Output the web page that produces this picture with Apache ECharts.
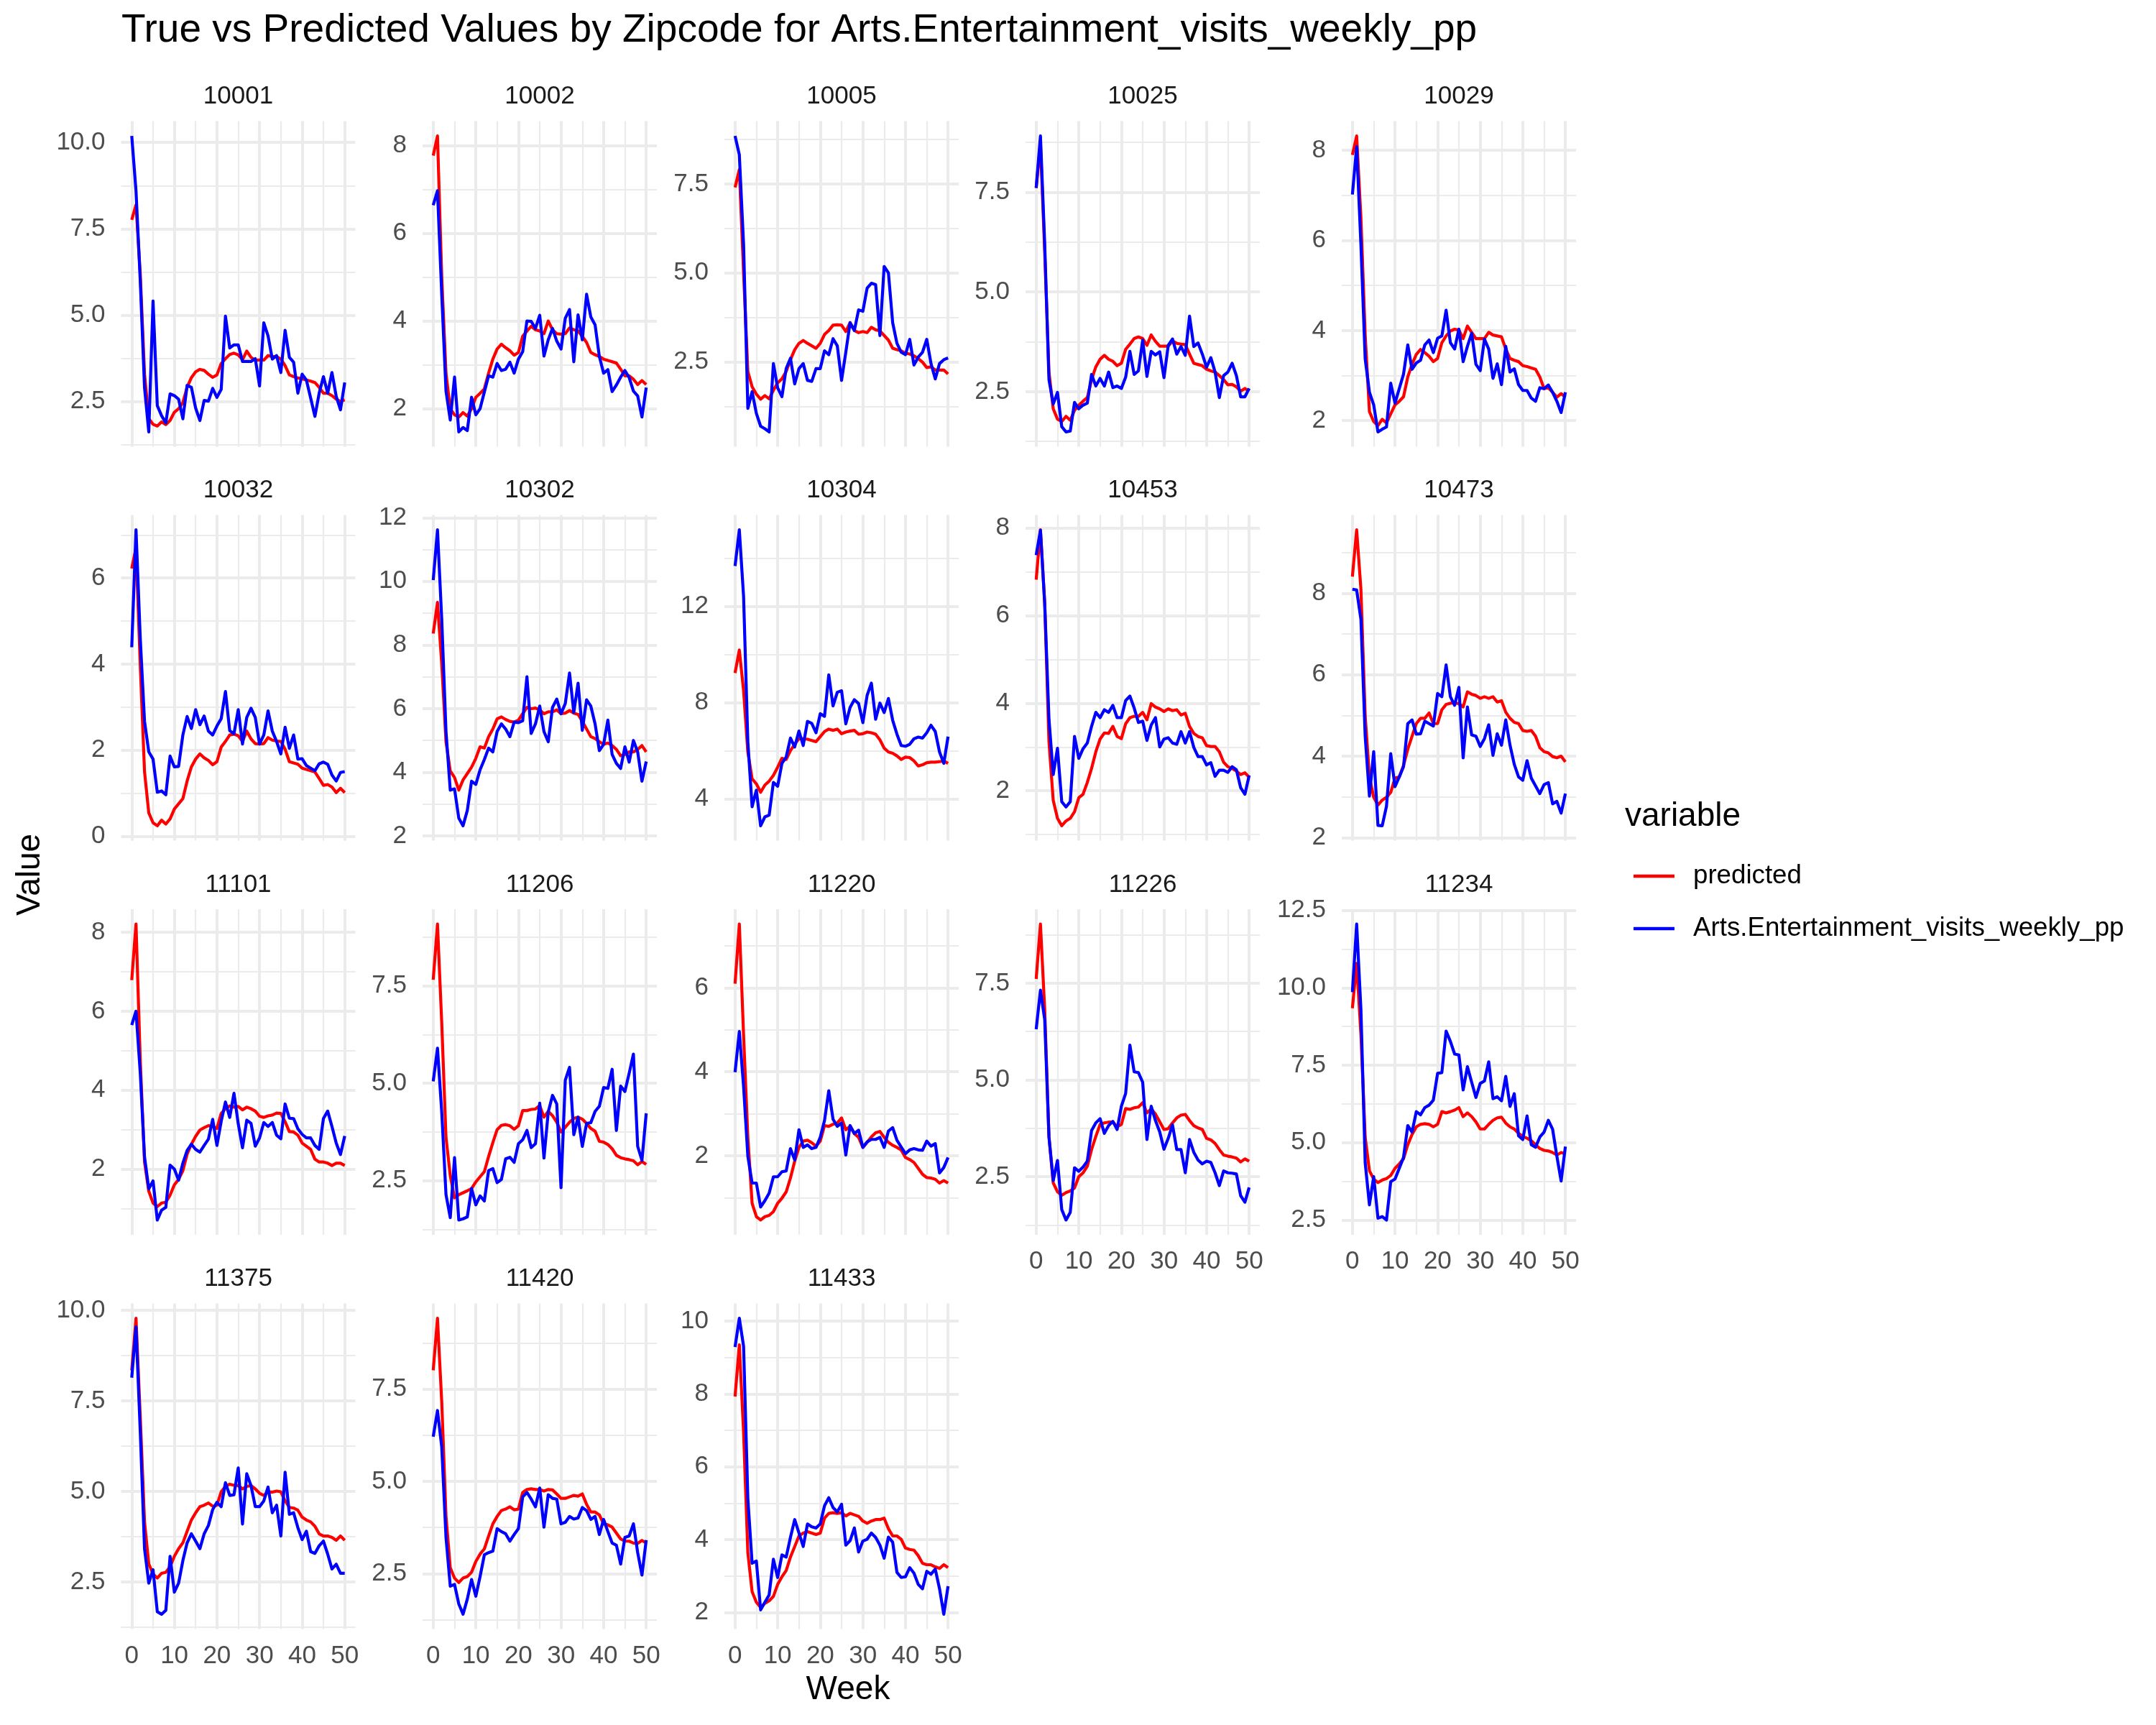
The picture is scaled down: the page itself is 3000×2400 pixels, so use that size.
<!DOCTYPE html>
<html><head><meta charset="utf-8">
<script src="https://cdn.jsdelivr.net/npm/echarts@6/dist/echarts.min.js"></script>
<style>html,body{margin:0;padding:0;background:#fff}#chart{width:3000px;height:2400px}</style>
</head><body><div id="chart"></div>
<script>
// ---------- DATA ----------
const weeks = [0,1,2,3,4,5,6,7,8,9,10,11,12,13,14,15,16,17,18,19,20,21,22,23,24,25,26,27,28,29,30,31,32,33,34,35,36,37,38,39,40,41,42,43,44,45,46,47,48,49,50];
const xTicks = [0,10,20,30,40,50];
const zipcodes = ['10001','10002','10005','10025','10029','10032','10302','10304','10453','10473','11101','11206','11220','11226','11234','11375','11420','11433'];

const true_10001 = [10.19,8.6,6.0,2.9,1.62,5.41,2.38,2.09,1.88,2.72,2.67,2.57,2.0,2.97,2.91,2.31,1.95,2.53,2.51,2.88,2.62,2.85,4.97,4.05,4.14,4.14,3.66,3.66,3.66,3.74,2.95,4.78,4.4,3.73,3.83,3.34,4.56,3.78,3.64,2.74,3.29,3.12,2.6,2.07,2.74,3.22,2.74,3.34,2.65,2.26,3.05];
const pred_10001 = [7.76,8.19,6.2,3.3,2.0,1.84,1.79,1.91,1.83,1.95,2.19,2.29,2.47,2.91,3.19,3.36,3.43,3.4,3.29,3.2,3.27,3.6,3.74,3.86,3.9,3.85,3.71,3.96,3.78,3.69,3.7,3.7,3.83,3.8,3.8,3.73,3.54,3.27,3.22,3.18,3.16,3.12,3.09,3.05,2.91,2.74,2.74,2.67,2.57,2.5,2.55];
const true_10002 = [6.64,6.97,4.6,2.4,1.74,2.72,1.47,1.57,1.5,2.26,1.86,2.0,2.38,2.75,2.72,3.03,2.87,2.9,3.06,2.81,3.13,3.3,4.0,3.99,3.83,4.13,3.2,3.57,3.83,3.54,3.36,4.06,4.26,3.07,4.14,3.57,4.61,4.09,3.91,3.19,2.81,2.89,2.39,2.54,2.72,2.87,2.71,2.4,2.29,1.81,2.48];
const pred_10002 = [7.77,8.22,5.0,2.8,2.0,1.86,1.81,1.91,1.83,2.0,2.26,2.35,2.45,2.81,3.13,3.36,3.47,3.39,3.32,3.22,3.28,3.65,3.77,3.88,3.8,3.77,3.71,4.0,3.8,3.71,3.7,3.71,3.84,3.8,3.77,3.65,3.51,3.28,3.23,3.19,3.13,3.1,3.07,3.04,2.9,2.75,2.75,2.67,2.55,2.64,2.55];
const true_10005 = [8.85,8.32,5.8,1.19,1.66,1.05,0.69,0.62,0.53,2.45,1.77,1.52,2.31,2.6,1.88,2.31,2.45,1.98,1.95,2.31,2.31,2.81,2.7,3.15,2.95,1.98,2.77,3.6,3.38,3.96,3.92,4.57,4.71,4.67,3.24,5.18,5.0,3.6,3.02,2.77,2.7,3.13,2.41,2.63,2.77,3.13,2.45,2.02,2.45,2.56,2.61];
const pred_10005 = [7.4,7.9,5.0,2.23,1.8,1.59,1.45,1.55,1.46,1.7,1.91,2.02,2.23,2.56,2.84,3.02,3.1,3.02,2.95,2.88,3.02,3.27,3.38,3.53,3.54,3.53,3.35,3.6,3.38,3.32,3.35,3.32,3.47,3.4,3.37,3.24,3.11,2.88,2.84,2.81,2.74,2.72,2.67,2.59,2.49,2.34,2.36,2.27,2.27,2.27,2.16];
const true_10025 = [7.61,8.91,6.2,2.8,2.19,2.48,1.62,1.49,1.51,2.23,2.07,2.16,2.21,2.93,2.64,2.83,2.64,2.99,2.6,2.64,2.58,2.86,3.51,2.93,3.02,3.79,2.88,3.51,3.42,3.5,2.85,3.66,3.82,3.44,3.63,3.41,4.39,3.63,3.72,3.44,3.11,3.35,2.99,2.35,2.9,2.99,3.21,2.9,2.37,2.37,2.58];
const pred_10025 = [7.6,8.7,6.0,2.99,2.07,1.81,1.75,1.88,1.78,2.03,2.16,2.26,2.35,2.8,3.12,3.31,3.41,3.31,3.26,3.15,3.21,3.56,3.69,3.83,3.87,3.83,3.66,3.92,3.76,3.64,3.64,3.64,3.77,3.71,3.69,3.68,3.44,3.21,3.18,3.15,3.06,3.02,2.99,2.9,2.8,2.67,2.68,2.62,2.51,2.58,2.51];
const true_10029 = [7.02,8.08,5.9,3.37,2.63,2.35,1.75,1.81,1.86,2.83,2.39,2.71,3.03,3.68,3.14,3.28,3.34,3.68,3.79,3.51,3.83,3.88,4.45,3.73,3.59,4.03,3.31,3.65,3.94,3.25,3.11,3.81,3.59,2.94,3.26,2.8,3.65,3.08,3.15,2.8,2.67,2.67,2.5,2.43,2.73,2.71,2.79,2.63,2.43,2.18,2.63];
const pred_10029 = [7.9,8.32,6.5,3.9,2.2,1.98,1.89,2.03,1.95,2.15,2.35,2.43,2.53,2.97,3.25,3.47,3.58,3.51,3.43,3.31,3.38,3.73,3.88,3.99,4.03,4.01,3.82,4.1,3.96,3.82,3.82,3.82,3.96,3.9,3.88,3.86,3.59,3.38,3.34,3.31,3.22,3.2,3.17,3.14,2.97,2.71,2.73,2.63,2.52,2.6,2.52];
const true_10032 = [4.39,7.12,4.6,2.67,1.96,1.79,1.02,1.05,0.96,1.86,1.61,1.62,2.35,2.78,2.5,2.94,2.59,2.79,2.44,2.35,2.56,2.73,3.36,2.45,2.38,2.94,2.14,2.76,2.97,2.76,2.14,2.35,2.91,2.44,2.2,1.91,2.53,2.04,2.35,1.79,1.8,1.64,1.58,1.52,1.68,1.72,1.67,1.42,1.28,1.48,1.5];
const pred_10032 = [6.22,6.7,3.97,1.5,0.54,0.31,0.24,0.37,0.28,0.4,0.63,0.75,0.87,1.28,1.61,1.79,1.91,1.82,1.76,1.66,1.73,2.07,2.2,2.35,2.37,2.33,2.2,2.44,2.26,2.15,2.14,2.15,2.29,2.23,2.21,2.2,2.02,1.73,1.7,1.67,1.58,1.55,1.52,1.49,1.34,1.18,1.2,1.14,1.01,1.11,1.01];
const true_10302 = [10.04,11.62,8.8,5.28,3.44,3.48,2.56,2.32,2.8,3.72,3.62,4.08,4.4,4.76,4.64,5.28,5.52,5.36,5.12,5.58,5.56,5.62,7.0,5.22,5.52,6.08,5.28,4.96,6.04,6.3,5.84,6.16,7.12,5.88,6.8,5.32,6.28,6.08,5.52,4.68,4.88,5.64,4.56,4.28,4.12,4.8,4.32,5.0,4.64,3.72,4.34];
const pred_10302 = [8.36,9.34,7.4,4.96,4.04,3.84,3.44,3.76,3.96,4.16,4.44,4.8,4.76,5.12,5.36,5.68,5.74,5.66,5.6,5.58,5.64,5.84,6.04,6.0,6.02,5.96,5.84,5.9,5.9,5.96,5.84,5.86,5.94,5.86,5.82,5.6,5.36,5.12,5.06,4.96,4.88,4.92,4.84,4.72,4.52,4.56,4.64,4.64,4.72,4.84,4.64];
const true_10304 = [13.67,15.17,12.4,6.38,3.68,4.37,2.89,3.26,3.33,4.69,4.53,5.48,5.74,6.53,6.16,6.82,6.22,7.22,7.14,6.75,7.54,7.43,9.15,7.86,8.43,8.49,7.12,7.8,8.12,7.96,7.17,8.3,8.81,7.31,7.98,7.59,8.17,7.27,6.69,6.22,6.19,6.27,6.5,6.57,6.53,6.75,7.06,6.8,5.95,5.48,6.59];
const pred_10304 = [9.23,10.18,8.5,5.95,4.84,4.63,4.28,4.58,4.74,4.98,5.32,5.69,5.64,6.01,6.27,6.5,6.5,6.48,6.43,6.38,6.59,6.8,6.9,6.85,6.9,6.71,6.78,6.82,6.85,6.69,6.71,6.78,6.75,6.69,6.46,6.11,5.95,5.9,5.79,5.64,5.74,5.72,5.58,5.37,5.42,5.51,5.53,5.53,5.55,5.58,5.48];
const true_10453 = [7.38,7.95,6.27,3.64,2.37,2.97,1.75,1.63,1.75,3.24,2.74,2.96,3.09,3.47,3.79,3.67,3.85,3.79,3.95,3.67,3.67,4.06,4.16,3.89,3.56,3.59,3.15,3.5,3.67,3.0,3.18,3.21,3.09,3.06,3.35,3.09,3.35,2.99,2.78,2.78,2.59,2.64,2.33,2.47,2.47,2.42,2.55,2.48,2.07,1.92,2.35];
const pred_10453 = [6.82,7.96,6.3,3.12,1.78,1.37,1.2,1.31,1.37,1.52,1.84,1.92,2.19,2.51,2.89,3.18,3.32,3.31,3.47,3.24,3.19,3.53,3.67,3.7,3.7,3.79,3.62,3.99,3.91,3.87,3.81,3.87,3.83,3.85,3.73,3.77,3.47,3.31,3.24,3.21,3.03,3.01,3.01,2.89,2.65,2.55,2.51,2.45,2.37,2.41,2.31];
const true_10473 = [8.1,8.08,7.36,4.49,3.02,4.11,2.3,2.29,2.77,4.06,3.25,3.49,3.74,4.8,4.89,4.54,4.55,4.86,4.8,4.74,5.54,5.46,6.24,5.46,5.25,5.69,3.96,5.21,4.52,4.49,4.24,4.43,4.77,4.02,4.55,4.27,4.89,4.27,3.8,3.49,3.41,3.89,3.46,3.27,3.08,3.3,3.35,2.83,2.89,2.6,3.08];
const pred_10473 = [8.41,9.56,8.1,4.99,3.49,2.99,2.8,2.92,2.99,3.11,3.46,3.49,3.77,4.17,4.49,4.8,4.93,4.93,5.06,4.8,4.8,5.14,5.27,5.3,5.31,5.29,5.21,5.58,5.52,5.49,5.42,5.46,5.42,5.46,5.33,5.36,5.08,4.93,4.83,4.8,4.63,4.61,4.63,4.49,4.21,4.11,4.08,3.99,3.96,4.0,3.86];
const true_11101 = [5.65,6.0,4.44,2.31,1.5,1.7,0.71,0.96,1.03,2.1,2.0,1.72,2.15,2.47,2.63,2.5,2.43,2.6,2.76,3.26,2.6,3.21,3.7,3.31,3.92,3.15,2.54,3.24,3.16,2.58,2.79,3.18,3.08,3.18,2.86,2.77,3.65,3.29,3.28,3.02,2.88,2.79,2.79,2.6,2.5,3.28,3.47,3.08,2.66,2.37,2.84];
const pred_11101 = [6.79,8.21,4.76,2.18,1.44,1.14,1.05,1.14,1.16,1.34,1.6,1.74,1.96,2.38,2.63,2.83,2.99,3.05,3.1,3.08,3.03,3.41,3.53,3.6,3.57,3.59,3.5,3.57,3.53,3.47,3.34,3.31,3.35,3.37,3.42,3.41,3.2,2.95,2.94,2.86,2.66,2.58,2.5,2.25,2.18,2.18,2.15,2.09,2.15,2.15,2.09];
const true_11206 = [5.05,5.9,4.26,2.14,1.55,3.09,1.49,1.52,1.57,2.3,1.88,2.11,1.98,2.76,2.81,2.45,2.53,3.06,3.1,2.97,3.45,3.55,3.79,3.35,3.45,4.49,3.08,4.26,4.69,4.47,2.32,5.08,5.41,3.68,4.13,3.38,3.97,3.99,4.28,4.41,4.89,4.87,5.36,3.79,4.93,4.79,5.26,5.75,3.38,3.02,4.23];
const pred_11206 = [7.66,9.09,6.55,3.61,2.63,2.06,2.14,2.19,2.24,2.3,2.47,2.6,2.73,3.12,3.48,3.81,3.92,3.94,3.91,3.82,3.91,4.3,4.3,4.33,4.34,4.43,4.13,4.28,4.17,4.0,3.75,3.87,4.0,4.1,4.13,4.08,3.97,3.84,3.77,3.51,3.49,3.43,3.32,3.15,3.09,3.06,3.04,3.01,2.91,2.99,2.92];
const true_11220 = [3.99,4.96,3.65,1.99,1.35,1.35,0.78,0.93,1.11,1.5,1.5,1.62,1.64,2.17,1.9,2.62,2.2,2.26,2.17,2.2,2.44,2.84,3.55,2.87,2.7,2.78,2.02,2.72,2.53,2.61,2.2,2.33,2.39,2.39,2.44,2.2,2.59,2.67,2.37,2.21,2.05,2.14,2.17,2.14,2.13,2.35,2.23,2.29,1.59,1.72,1.96];
const pred_11220 = [6.1,7.52,4.87,2.44,0.87,0.55,0.47,0.55,0.58,0.67,0.87,0.99,1.14,1.47,1.87,2.2,2.35,2.37,2.31,2.23,2.35,2.72,2.7,2.75,2.78,2.9,2.62,2.7,2.53,2.44,2.2,2.32,2.45,2.55,2.58,2.44,2.32,2.25,2.2,2.14,1.96,1.91,1.84,1.7,1.56,1.48,1.47,1.44,1.35,1.41,1.35];
const true_11226 = [6.31,7.32,6.56,3.53,2.4,2.92,1.65,1.38,1.58,2.73,2.64,2.75,2.9,3.69,3.89,4.0,3.62,3.82,3.93,3.72,4.32,4.65,5.9,5.21,5.19,4.94,3.46,4.32,3.95,3.66,3.21,3.49,3.84,3.2,3.2,2.6,3.46,3.13,2.93,2.83,2.9,2.87,2.6,2.27,2.65,2.6,2.59,2.57,2.01,1.84,2.22];
const pred_11226 = [7.61,9.03,6.82,3.53,2.34,2.11,2.02,2.09,2.13,2.21,2.5,2.6,2.77,3.2,3.54,3.85,3.89,3.91,3.91,3.79,3.85,4.26,4.24,4.28,4.3,4.41,4.15,4.25,4.12,3.92,3.72,3.74,3.89,4.02,4.09,4.11,3.95,3.82,3.76,3.72,3.49,3.45,3.36,3.2,3.06,3.03,3.01,2.98,2.88,2.96,2.9];
const true_11234 = [9.86,12.06,9.3,4.35,2.99,3.9,2.56,2.61,2.5,3.74,3.82,4.17,4.52,5.55,5.34,6.0,5.9,6.13,6.21,6.37,7.24,7.26,8.6,8.27,7.86,7.83,6.7,7.45,6.95,6.46,6.91,6.99,7.61,6.42,6.48,6.35,7.14,6.17,6.58,5.22,5.1,5.86,4.93,4.85,5.18,5.34,5.72,5.43,4.56,3.76,4.87];
const pred_11234 = [9.34,10.79,8.5,5.18,4.09,3.82,3.71,3.79,3.84,3.94,4.17,4.31,4.48,4.93,5.26,5.51,5.59,5.61,5.59,5.51,5.59,6.0,5.96,6.0,6.05,6.13,5.84,5.96,5.84,5.67,5.44,5.44,5.59,5.72,5.8,5.82,5.63,5.51,5.44,5.3,5.2,5.14,5.06,4.93,4.81,4.75,4.73,4.68,4.6,4.68,4.64];
const true_11375 = [8.14,9.54,6.65,3.42,2.47,2.84,1.68,1.61,1.72,3.21,2.22,2.47,3.09,3.58,3.83,3.63,3.42,3.83,4.06,4.5,4.7,4.58,5.24,4.89,4.91,5.65,4.1,5.49,5.16,4.58,4.58,4.74,5.12,4.41,4.62,3.77,5.53,4.37,4.41,4.0,3.67,3.9,3.34,3.29,3.5,3.63,3.27,2.86,2.99,2.74,2.74];
const pred_11375 = [8.34,9.78,7.06,4.16,3.0,2.72,2.61,2.74,2.77,2.92,3.21,3.42,3.58,3.9,4.21,4.41,4.58,4.62,4.68,4.59,4.62,4.99,5.14,5.2,5.17,5.16,5.07,5.14,5.16,5.07,4.95,4.89,4.99,4.98,5.01,4.99,4.74,4.56,4.54,4.48,4.29,4.21,4.16,4.04,3.83,3.77,3.77,3.73,3.65,3.77,3.65];
const true_11420 = [6.21,6.92,5.93,3.48,2.16,2.21,1.68,1.4,1.81,2.34,1.89,2.42,3.01,3.07,3.11,3.72,3.64,3.58,3.38,3.56,3.72,4.58,4.7,4.52,4.31,4.82,3.76,4.64,4.54,4.52,3.85,3.89,4.05,3.98,4.01,4.29,4.21,3.97,4.05,3.56,3.97,3.64,3.33,3.27,2.76,3.48,3.52,3.85,3.07,2.46,3.41];
const pred_11420 = [8.01,9.42,7.15,4.05,2.66,2.38,2.26,2.38,2.42,2.54,2.83,3.03,3.17,3.52,3.85,4.05,4.21,4.25,4.31,4.23,4.25,4.7,4.78,4.8,4.78,4.78,4.74,4.78,4.77,4.66,4.54,4.54,4.58,4.62,4.6,4.66,4.38,4.17,4.17,4.09,3.85,3.82,3.76,3.6,3.44,3.38,3.38,3.33,3.32,3.4,3.33];
const true_11433 = [9.29,10.08,9.31,5.13,3.35,3.41,2.07,2.28,2.48,3.46,2.96,3.58,3.52,4.06,4.55,4.18,3.81,4.43,4.35,4.32,4.43,4.93,5.15,4.88,4.76,4.97,3.85,3.97,4.32,3.66,3.96,4.01,4.18,4.06,3.85,3.49,4.07,3.93,3.1,2.96,2.98,3.23,3.08,2.77,2.65,3.13,3.05,3.19,2.65,1.95,2.72];
const pred_11433 = [7.93,9.35,6.95,3.64,2.57,2.28,2.14,2.25,2.32,2.44,2.77,2.98,3.15,3.52,3.81,4.1,4.18,4.22,4.18,4.14,4.18,4.59,4.72,4.74,4.72,4.74,4.65,4.72,4.68,4.64,4.51,4.45,4.51,4.55,4.55,4.59,4.3,4.1,4.1,4.01,3.77,3.73,3.71,3.56,3.35,3.31,3.31,3.25,3.21,3.31,3.23];

// y tick labels per panel
const yTicks_10001 = [2.5,5,7.5,10];
const yTicks_10002 = [2,4,6,8];
const yTicks_10005 = [2.5,5,7.5];
const yTicks_10025 = [2.5,5,7.5];
const yTicks_10029 = [2,4,6,8];
const yTicks_10032 = [0,2,4,6];
const yTicks_10302 = [2,4,6,8,10,12];
const yTicks_10304 = [4,8,12];
const yTicks_10453 = [2,4,6,8];
const yTicks_10473 = [2,4,6,8];
const yTicks_11101 = [2,4,6,8];
const yTicks_11206 = [2.5,5,7.5];
const yTicks_11220 = [2,4,6];
const yTicks_11226 = [2.5,5,7.5];
const yTicks_11234 = [2.5,5,7.5,10,12.5];
const yTicks_11375 = [2.5,5,7.5,10];
const yTicks_11420 = [2.5,5,7.5];
const yTicks_11433 = [2,4,6,8,10];

const predicted = [pred_10001,pred_10002,pred_10005,pred_10025,pred_10029,pred_10032,pred_10302,pred_10304,pred_10453,pred_10473,pred_11101,pred_11206,pred_11220,pred_11226,pred_11234,pred_11375,pred_11420,pred_11433];
const actual = [true_10001,true_10002,true_10005,true_10025,true_10029,true_10032,true_10302,true_10304,true_10453,true_10473,true_11101,true_11206,true_11220,true_11226,true_11234,true_11375,true_11420,true_11433];
const yTicks = [yTicks_10001,yTicks_10002,yTicks_10005,yTicks_10025,yTicks_10029,yTicks_10032,yTicks_10302,yTicks_10304,yTicks_10453,yTicks_10473,yTicks_11101,yTicks_11206,yTicks_11220,yTicks_11226,yTicks_11234,yTicks_11375,yTicks_11420,yTicks_11433];

// ---------- LAYOUT / STYLE ----------
const FONT = '"Liberation Sans", Arial, Helvetica, sans-serif';
const colLeft = [168.5, 588, 1008, 1427, 1867];
const rowTop = [168.5, 716.5, 1265, 1813.5];
const PW = 326, PH = 453;
const GRID_COLOR = '#EBEBEB';
const MAJOR_W = 4, MINOR_W = 2.2, LINE_W = 4.2;

const grids = [], xAxes = [], yAxes = [], series = [], graphics = [];

zipcodes.forEach((zip, i) => {
  const r = Math.floor(i / 5), c = i % 5;
  const left = colLeft[c], top = rowTop[r];
  grids.push({ left: left, top: top, width: PW, height: PH });

  const all = predicted[i].concat(actual[i]);
  const dmin = Math.min.apply(null, all), dmax = Math.max.apply(null, all);
  const lo = dmin - 0.05 * (dmax - dmin), hi = dmax + 0.05 * (dmax - dmin);
  const t = yTicks[i];
  const dec = t.some(v => Math.round(v) !== v);
  const step = t[1] - t[0];
  const ext = [t[0] - step].concat(t, [t[t.length - 1] + step]);
  const minors = [];
  for (let k = 0; k < ext.length - 1; k++) {
    const m = (ext[k] + ext[k + 1]) / 2;
    if (m >= lo && m <= hi) minors.push(m);
  }
  const showX = (i >= 13);

  xAxes.push({
    type: 'value', gridIndex: i, min: -2.5, max: 52.5,
    axisLine: { show: false }, axisTick: { show: false }, splitLine: { show: false },
    axisLabel: { show: showX, customValues: xTicks, margin: 20, fontSize: 35, color: '#4D4D4D', fontFamily: FONT }
  });
  yAxes.push({
    type: 'value', gridIndex: i, min: lo, max: hi,
    axisLine: { show: false }, axisTick: { show: false }, splitLine: { show: false },
    axisLabel: { customValues: t, margin: 22, fontSize: 35, color: '#4D4D4D', fontFamily: FONT,
      formatter: v => dec ? v.toFixed(1) : String(Math.round(v)) }
  });

  const mk = [];
  minors.forEach(v => mk.push({ yAxis: v, lineStyle: { width: MINOR_W, color: GRID_COLOR, type: 'solid' } }));
  [5, 15, 25, 35, 45].forEach(v => mk.push({ xAxis: v, lineStyle: { width: MINOR_W, color: GRID_COLOR, type: 'solid' } }));
  t.forEach(v => mk.push({ yAxis: v, lineStyle: { width: MAJOR_W, color: GRID_COLOR, type: 'solid' } }));
  xTicks.forEach(v => mk.push({ xAxis: v, lineStyle: { width: MAJOR_W, color: GRID_COLOR, type: 'solid' } }));

  series.push({
    type: 'line', name: 'grid' + i, xAxisIndex: i, yAxisIndex: i, data: [], silent: true, z: 0,
    markLine: { z: 0, silent: true, symbol: ['none', 'none'], label: { show: false }, animation: false,
      emphasis: { disabled: true }, data: mk }
  });
  series.push({
    type: 'line', name: 'predicted', xAxisIndex: i, yAxisIndex: i, z: 10,
    data: weeks.map((w, j) => [w, predicted[i][j]]),
    showSymbol: false, symbol: 'none', color: '#FF0000',
    lineStyle: { color: '#FF0000', width: LINE_W, cap: 'butt', join: 'round' },
    emphasis: { disabled: true }
  });
  series.push({
    type: 'line', name: 'Arts.Entertainment_visits_weekly_pp', xAxisIndex: i, yAxisIndex: i, z: 11,
    data: weeks.map((w, j) => [w, actual[i][j]]),
    showSymbol: false, symbol: 'none', color: '#0000FF',
    lineStyle: { color: '#0000FF', width: LINE_W, cap: 'butt', join: 'round' },
    emphasis: { disabled: true }
  });

  graphics.push({
    type: 'text', x: left + PW / 2, y: top - 34,
    style: { text: zip, fontSize: 35, fontFamily: FONT, fill: '#1A1A1A', align: 'center', verticalAlign: 'middle' }
  });
});

graphics.push({ type: 'text', x: 169, y: 43,
  style: { text: 'True vs Predicted Values by Zipcode for Arts.Entertainment_visits_weekly_pp', fontSize: 55, fontFamily: FONT, fill: '#000', align: 'left', verticalAlign: 'middle' } });
graphics.push({ type: 'text', x: 1180, y: 2351,
  style: { text: 'Week', fontSize: 46, fontFamily: FONT, fill: '#000', align: 'center', verticalAlign: 'middle' } });
graphics.push({ type: 'text', x: 42, y: 1217, rotation: Math.PI / 2,
  style: { text: 'Value', fontSize: 46, fontFamily: FONT, fill: '#000', align: 'center', verticalAlign: 'middle' } });
graphics.push({ type: 'text', x: 2261, y: 1136,
  style: { text: 'variable', fontSize: 46, fontFamily: FONT, fill: '#000', align: 'left', verticalAlign: 'middle' } });

const chart = echarts.init(document.getElementById('chart'), null, { renderer: 'canvas' });
chart.setOption({
  backgroundColor: '#FFFFFF',
  animation: false,
  grid: grids, xAxis: xAxes, yAxis: yAxes, series: series,
  legend: {
    orient: 'vertical', left: 2268, top: 1194, itemWidth: 57, itemHeight: 4.4, itemGap: 33,
    selectedMode: false,
    data: [{ name: 'predicted', icon: 'rect' }, { name: 'Arts.Entertainment_visits_weekly_pp', icon: 'rect' }],
    textStyle: { fontSize: 36.7, fontFamily: FONT, color: '#000', lineHeight: 40, padding: [0, 0, 0, 21] }
  },
  graphic: graphics
});
</script></body></html>
